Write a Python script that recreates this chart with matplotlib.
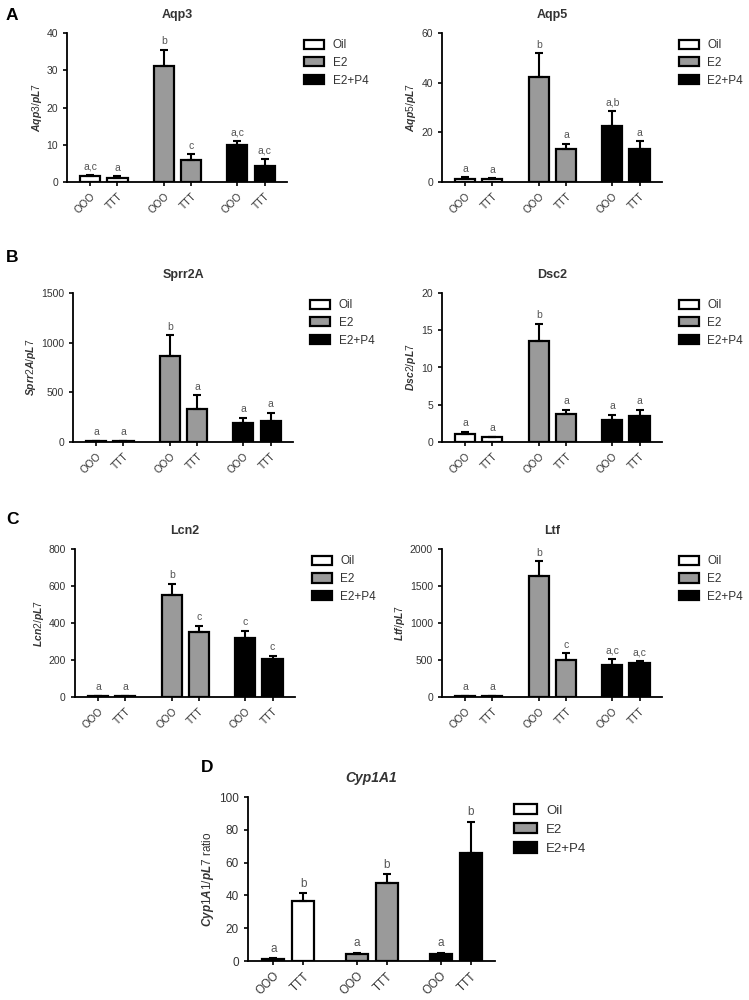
import matplotlib
matplotlib.use('Agg')
import matplotlib.pyplot as plt
from matplotlib.patches import Patch
import numpy as np

plt.rcParams['font.family'] = ['Liberation Sans', 'DejaVu Sans']
plt.rcParams['mathtext.fontset'] = 'custom'
plt.rcParams['mathtext.it'] = 'Liberation Sans:italic:bold'
plt.rcParams['mathtext.rm'] = 'Liberation Sans'

groups = ['Oil', 'E2', 'E2+P4']
tick_labels = ['OOO', 'TTT', 'OOO', 'TTT', 'OOO', 'TTT']

# each gene: means, upper error (absolute top), significance letters
aqp3_mean = [1.5, 1.2, 31.2, 6.0, 9.8, 4.4]
aqp3_top = [2.0, 1.6, 35.5, 7.4, 11.0, 6.3]
aqp3_sig = ['a,c', 'a', 'b', 'c', 'a,c', 'a,c']

aqp5_mean = [1.3, 1.2, 42.2, 13.1, 22.6, 13.1]
aqp5_top = [2.0, 1.5, 51.9, 15.5, 28.6, 16.4]
aqp5_sig = ['a', 'a', 'b', 'a', 'a,b', 'a']

sprr_mean = [10, 10, 870, 330, 192, 209]
sprr_top = [15, 14, 1075, 472, 246, 293]
sprr_sig = ['a', 'a', 'b', 'a', 'a', 'a']

dsc2_mean = [1.13, 0.63, 13.5, 3.8, 3.0, 3.5]
dsc2_top = [1.35, 0.7, 15.9, 4.3, 3.65, 4.3]
dsc2_sig = ['a', 'a', 'b', 'a', 'a', 'a']

lcn2_mean = [5, 5, 553, 350, 319, 205]
lcn2_top = [7, 7, 611, 386, 359, 223]
lcn2_sig = ['a', 'a', 'b', 'c', 'c', 'c']

ltf_mean = [10, 10, 1631, 505, 428, 459]
ltf_top = [14, 14, 1838, 590, 518, 486]
ltf_sig = ['a', 'a', 'b', 'c', 'a,c', 'a,c']

cyp_mean = [1.0, 36.7, 4.1, 47.7, 4.1, 66.1]
cyp_top = [1.6, 41.2, 5.1, 52.9, 5.1, 84.8]
cyp_sig = ['a', 'b', 'a', 'b', 'a', 'b']

colors = ['white', 'white', '#9a9a9a', '#9a9a9a', 'black', 'black']
legend_colors = ['white', '#9a9a9a', 'black']
TXT = '#333333'


def draw(fig, rect, mean, top, sig, ylim, yticks, title, ylabel, gap=2.7,
         fs=7.5, tfs=9, italic_title=False, legfs=8.5):
    ax = fig.add_axes(rect)
    x = np.array([0, 1, gap, gap + 1, 2 * gap, 2 * gap + 1])
    mean = np.array(mean, dtype=float)
    err = np.array(top, dtype=float) - mean
    ax.bar(x, mean, width=0.74, color=colors, edgecolor='black', linewidth=1.6,
           yerr=[np.zeros_like(err), err], capsize=2.8,
           error_kw=dict(elinewidth=1.5, capthick=1.5, ecolor='black'), zorder=2)
    for xi, t, s in zip(x, top, sig):
        ax.annotate(s, (xi, t), xytext=(0, 2.5), textcoords='offset points',
                    ha='center', va='bottom', fontsize=fs, color='#555555')
    ax.set_xlim(x[0] - 0.85, x[-1] + 0.82)
    ax.set_ylim(*ylim)
    ax.set_yticks(yticks)
    ax.set_xticks(x)
    ax.set_xticklabels(tick_labels, rotation=45, ha='right', rotation_mode='anchor')
    ax.tick_params(axis='both', labelsize=fs, colors='black', labelcolor=TXT,
                   width=1.2, length=3, direction='out')
    for sp in ['top', 'right']:
        ax.spines[sp].set_visible(False)
    for sp in ['left', 'bottom']:
        ax.spines[sp].set_linewidth(1.3)
    ax.set_title(title, fontsize=tfs, fontweight='bold', color=TXT,
                 style='italic' if italic_title else 'normal', pad=11)
    ax.set_ylabel(ylabel, fontsize=fs, color=TXT, labelpad=2)
    handles = [Patch(facecolor=c, edgecolor='black', linewidth=1.6) for c in legend_colors]
    ax.legend(handles, groups, loc='upper left', bbox_to_anchor=(1.03, 1.03),
              frameon=False, fontsize=legfs, handlelength=1.7, handleheight=0.8,
              labelspacing=0.5, handletextpad=0.7, labelcolor=TXT)
    return ax


fig = plt.figure(figsize=(7.49, 10), dpi=100)

def ital(s):
    return r'$\it{' + s + '}$'

draw(fig, [0.0895, 0.818, 0.2937, 0.149], aqp3_mean, aqp3_top, aqp3_sig,
     (0, 40), [0, 10, 20, 30, 40], 'Aqp3', ital('Aqp3/pL7'))
draw(fig, [0.590, 0.818, 0.2937, 0.149], aqp5_mean, aqp5_top, aqp5_sig,
     (0, 60), [0, 20, 40, 60], 'Aqp5', ital('Aqp5/pL7'))
draw(fig, [0.0975, 0.558, 0.2937, 0.149], sprr_mean, sprr_top, sprr_sig,
     (0, 1500), [0, 500, 1000, 1500], 'Sprr2A', ital('Sprr2A/pL7'))
draw(fig, [0.590, 0.558, 0.2937, 0.149], dsc2_mean, dsc2_top, dsc2_sig,
     (0, 20), [0, 5, 10, 15, 20], 'Dsc2', ital('Dsc2/pL7'))
draw(fig, [0.100, 0.303, 0.2937, 0.148], lcn2_mean, lcn2_top, lcn2_sig,
     (0, 800), [0, 200, 400, 600, 800], 'Lcn2', ital('Lcn2/pL7'))
draw(fig, [0.590, 0.303, 0.2937, 0.148], ltf_mean, ltf_top, ltf_sig,
     (0, 2000), [0, 500, 1000, 1500, 2000], 'Ltf', ital('Ltf/pL7'))
draw(fig, [0.331, 0.039, 0.330, 0.164], cyp_mean, cyp_top, cyp_sig,
     (0, 100), [0, 20, 40, 60, 80, 100], 'Cyp1A1', ital('Cyp1A1/pL7') + ' ratio',
     gap=2.8, fs=8.5, tfs=10, italic_title=True, legfs=9.5)

for letter, (xp, yp) in zip('ABCD', [(0.008, 0.985), (0.008, 0.743), (0.008, 0.48), (0.268, 0.232)]):
    fig.text(xp, yp, letter, fontsize=12.5, fontweight='bold', va='center', ha='left')

plt.savefig('out.png', dpi=100)
